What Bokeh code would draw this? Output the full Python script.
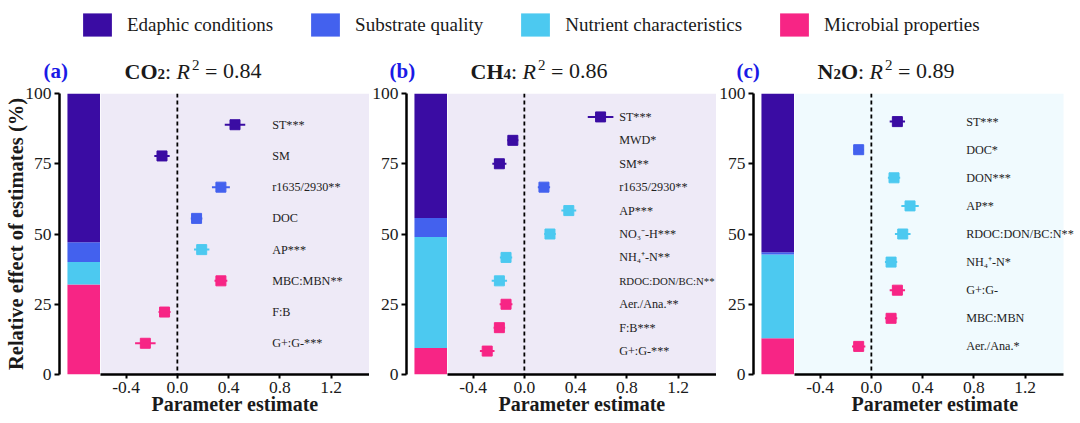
from bokeh.plotting import figure
from bokeh.layouts import column, row
from bokeh.models import (ColumnDataSource, Label, LabelSet, Span, BoxAnnotation,
                          FixedTicker, PrintfTickFormatter, Legend, LegendItem)
from bokeh.core.properties import value
from bokeh.embed import file_html
from bokeh.resources import INLINE

# ---------------- data ----------------
GROUPS = ["Edaphic conditions", "Substrate quality", "Nutrient characteristics", "Microbial properties"]
GROUP_COLORS = ["#3A0CA3", "#4361EE", "#4CC9F0", "#F72585"]

# (a) CO2
co2_vars = ["ST***", "SM", "r1635/2930**", "DOC", "AP***", "MBC:MBN**", "F:B", "G+:G-***"]
co2_group = [0, 0, 1, 1, 2, 3, 3, 3]
co2_est = [0.45, -0.12, 0.34, 0.15, 0.19, 0.34, -0.10, -0.25]
co2_err = [0.08, 0.06, 0.07, 0.045, 0.06, 0.05, 0.047, 0.08]
co2_share = [52.9, 7.1, 8.0, 32.0]   # edaphic, substrate, nutrient, microbial (%)

# (b) CH4
ch4_vars = ["ST***", "MWD*", "SM**", "r1635/2930**", "AP***", "NO\u2083\u207b-H***", "NH\u2084\u207a-N**",
            "RDOC:DON/BC:N**", "Aer./Ana.**", "F:B***", "G+:G-***"]
ch4_group = [0, 0, 0, 1, 2, 2, 2, 2, 3, 3, 3]
ch4_est = [0.595, -0.09, -0.195, 0.153, 0.347, 0.20, -0.143, -0.195, -0.143, -0.195, -0.29]
ch4_err = [0.10, 0.043, 0.055, 0.048, 0.058, 0.045, 0.048, 0.06, 0.05, 0.045, 0.057]
ch4_share = [44.3, 6.8, 39.5, 9.4]

# (c) N2O
n2o_vars = ["ST***", "DOC*", "DON***", "AP**", "RDOC:DON/BC:N**", "NH\u2084\u207a-N*", "G+:G-", "MBC:MBN", "Aer./Ana.*"]
n2o_group = [0, 1, 2, 2, 2, 2, 3, 3, 3]
n2o_est = [0.203, -0.099, 0.177, 0.302, 0.245, 0.154, 0.203, 0.154, -0.099]
n2o_err = [0.06, 0.04, 0.048, 0.068, 0.061, 0.048, 0.06, 0.048, 0.052]
n2o_share = [56.5, 0.8, 29.8, 12.9]

species_parts = [[("CO", False), ("2", True)],
                 [("CH", False), ("4", True)],
                 [("N", False), ("2", True), ("O", False)]]
r2_values = ["0.84", "0.86", "0.89"]
panel_tags = ["(a)", "(b)", "(c)"]

x_ticks = [-0.4, 0.0, 0.4, 0.8, 1.2]
y_ticks = [0, 25, 50, 75, 100]

# ---------------- style / layout ----------------
SERIF = "Liberation Serif"
FH = 281
BAR_FW, MAIN_FW = 41, 269
XAX0, X1 = -0.6, 1.5
PX_PER_UNIT = MAIN_FW / (X1 - XAX0)
BX0 = XAX0 - BAR_FW / PX_PER_UNIT          # left end of the bar strip
BAR_L, BAR_R = -0.858, -0.6
LABEL_X = 0.74
TXT = "#1a1a1a"
TOP_H, TOP_B, BOT_B = 83, 10, 48
LEFT_B = [59, 36, 37]
EXTRA_R = [0, 0, 12]
BASE_SHIFT = 6        # alphabetic baseline correction for Label
TITLE_BASELINE = 76.5  # page y of the title baseline

MET = {
    "bold": {"C": 722, "O": 778, "H": 778, "N": 722, "2": 500, "4": 500},
    "italic": {"R": 611},
    "normal": {":": 278, " ": 250, "=": 564, ".": 250},
}


def text_w(t, style, size):
    return sum(MET[style].get(ch, 500) for ch in t) * size / 1000.0


def style_axis(ax):
    ax.axis_line_width = 2.5
    ax.axis_line_color = "black"
    ax.major_tick_in = 0
    ax.major_tick_line_width = 2
    ax.minor_tick_line_color = None
    ax.major_label_text_font = SERIF
    ax.major_label_text_font_size = "17.5px"
    ax.major_label_text_color = TXT
    ax.major_label_standoff = 3


def make_panel(idx, vars_, groups, est, err, shares, bg, ylabel, font_sizes=None):
    n = len(vars_)
    ys = [(n - i) * 100.0 / (n + 1) for i in range(n)]
    cols = [GROUP_COLORS[g] for g in groups]
    left_b = LEFT_B[idx]
    fw = MAIN_FW + EXTRA_R[idx]
    x1 = X1 + EXTRA_R[idx] / PX_PER_UNIT

    # ---- stacked relative-effect bar with the y axis ----
    bf = figure(frame_width=BAR_FW, frame_height=FH, x_range=(BX0, XAX0), y_range=(0, 100),
                x_axis_type=None, output_backend="svg", toolbar_location=None,
                min_border_left=left_b, min_border_right=0,
                min_border_top=TOP_B, min_border_bottom=BOT_B)
    bf.outline_line_color = None
    bf.grid.visible = False
    bottoms, tops, bcols = [], [], []
    acc = 0.0
    for g in [3, 2, 1, 0]:
        bottoms.append(acc)
        acc += shares[g]
        tops.append(acc)
        bcols.append(GROUP_COLORS[g])
    bf.quad(left=BAR_L, right=BAR_R, bottom=bottoms, top=tops, fill_color=bcols, line_color=None)
    bf.yaxis.ticker = FixedTicker(ticks=y_ticks)
    style_axis(bf.yaxis)
    bf.yaxis.major_tick_out = 5
    if ylabel:
        bf.yaxis.axis_label = "Relative effect of estimates (%)"
        bf.yaxis.axis_label_text_font = SERIF
        bf.yaxis.axis_label_text_font_style = "bold"
        bf.yaxis.axis_label_text_font_size = "20.5px"
        bf.yaxis.axis_label_text_color = TXT
        bf.yaxis.axis_label_standoff = -5

    # ---- estimates ----
    p = figure(frame_width=fw, frame_height=FH, x_range=(XAX0, x1), y_range=bf.y_range,
               y_axis_type=None, output_backend="svg", toolbar_location=None,
               min_border_left=0, min_border_right=0,
               min_border_top=TOP_B, min_border_bottom=BOT_B,
               background_fill_color="white", border_fill_color="white")
    p.outline_line_color = None
    p.grid.visible = False

    p.add_layout(BoxAnnotation(left=XAX0, right=X1, bottom=0, top=100, fill_color=bg,
                               fill_alpha=0.085, line_color=None, level="underlay"))
    p.add_layout(Span(location=0, dimension="height", line_color="black",
                      line_dash="4 3", line_width=1.8))

    if font_sizes is None:
        font_sizes = ["12.2px"] * n
    src = ColumnDataSource(dict(y=ys, est=est, lo=[e - s for e, s in zip(est, err)],
                                hi=[e + s for e, s in zip(est, err)], c=cols, name=vars_,
                                lx=[LABEL_X] * n, fs=font_sizes))
    p.segment(x0="lo", x1="hi", y0="y", y1="y", line_color="c", line_width=2, source=src)
    p.scatter(x="est", y="y", marker="square", size=10, fill_color="c", line_color="c",
              line_width=1, source=src)
    p.add_layout(LabelSet(x="lx", y="y", text="name", source=src, text_font=value(SERIF),
                          text_font_size="fs", text_baseline="middle", text_color="#222222"))

    p.xaxis.ticker = FixedTicker(ticks=x_ticks)
    p.xaxis.formatter = PrintfTickFormatter(format="%.1f")
    p.xaxis.bounds = (XAX0, X1)
    style_axis(p.xaxis)
    p.xaxis.major_tick_out = 4
    p.xaxis.axis_label = "Parameter estimate"
    p.xaxis.axis_label_text_font = SERIF
    p.xaxis.axis_label_text_font_style = "bold"
    p.xaxis.axis_label_text_font_size = "20px"
    p.xaxis.axis_label_text_color = TXT
    p.xaxis.axis_label_standoff = -3
    return row(bf, p)


pa = make_panel(0, co2_vars, co2_group, co2_est, co2_err, co2_share, "#3A0CA3", True)
fs_b = ["12.2px"] * len(ch4_vars)
fs_b[ch4_vars.index("RDOC:DON/BC:N**")] = "10.8px"
pb = make_panel(1, ch4_vars, ch4_group, ch4_est, ch4_err, ch4_share, "#3A0CA3", False, fs_b)
pc = make_panel(2, n2o_vars, n2o_group, n2o_est, n2o_err, n2o_share, "#4CC9F0", False)

# ---------------- top strip: legend + panel titles ----------------
panel_w = [LEFT_B[i] + BAR_FW + MAIN_FW + EXTRA_R[i] for i in range(3)]
top = figure(width=sum(panel_w), height=TOP_H, x_range=(0, 1), y_range=(0, 1), x_axis_type=None,
             y_axis_type=None, toolbar_location=None, output_backend="svg", min_border=0)
top.outline_line_color = None
top.grid.visible = False
items = []
for name, c in zip(GROUPS, GROUP_COLORS):
    # proxy glyph outside the visible range: only its legend swatch is seen
    r = top.quad(left=[2], right=[3], top=[3], bottom=[2], fill_color=c, line_color=None)
    items.append(LegendItem(label=name, renderers=[r]))
legend = Legend(items=items, orientation="horizontal", location=(78.9, TOP_H - 39.1),
                glyph_width=36, glyph_height=29, label_standoff=12, spacing=34,
                padding=0, margin=0, border_line_color=None, background_fill_alpha=0,
                label_text_font=SERIF, label_text_font_size="19px", label_text_color=TXT)
top.add_layout(legend)

base = TOP_H - TITLE_BASELINE + BASE_SHIFT
panel_x = 0
for i in range(3):
    frame_left = panel_x + LEFT_B[i]
    top.add_layout(Label(x=frame_left - 16, y=base, x_units="screen", y_units="screen",
                         text=panel_tags[i], text_font=SERIF, text_font_style="bold",
                         text_font_size="21px", text_baseline="alphabetic", text_color="#1a1ae6"))
    pieces = [(t, "bold", 15 if sub else 22, -3 if sub else 0, 0) for t, sub in species_parts[i]]
    pieces += [(":", "normal", 22, 0, text_w(" ", "normal", 22)),
               ("R", "italic", 22, 0, 2),
               ("2", "normal", 15, 6, text_w(" ", "normal", 22)),
               ("=", "normal", 22, 0, text_w(" ", "normal", 22)),
               (r2_values[i], "normal", 22, 0, 0)]
    x = frame_left + 65.0
    for t, style, size, dy, extra in pieces:
        top.add_layout(Label(x=x, y=base + dy, x_units="screen", y_units="screen", text=t,
                             text_font=SERIF, text_font_style=style, text_font_size=f"{size}px",
                             text_baseline="alphabetic", text_align="left", text_color=TXT))
        x += text_w(t, style, size) + extra
    panel_x += panel_w[i]

layout = column(top, row(pa, pb, pc))
open("out.html", "w").write(file_html(layout, INLINE))
